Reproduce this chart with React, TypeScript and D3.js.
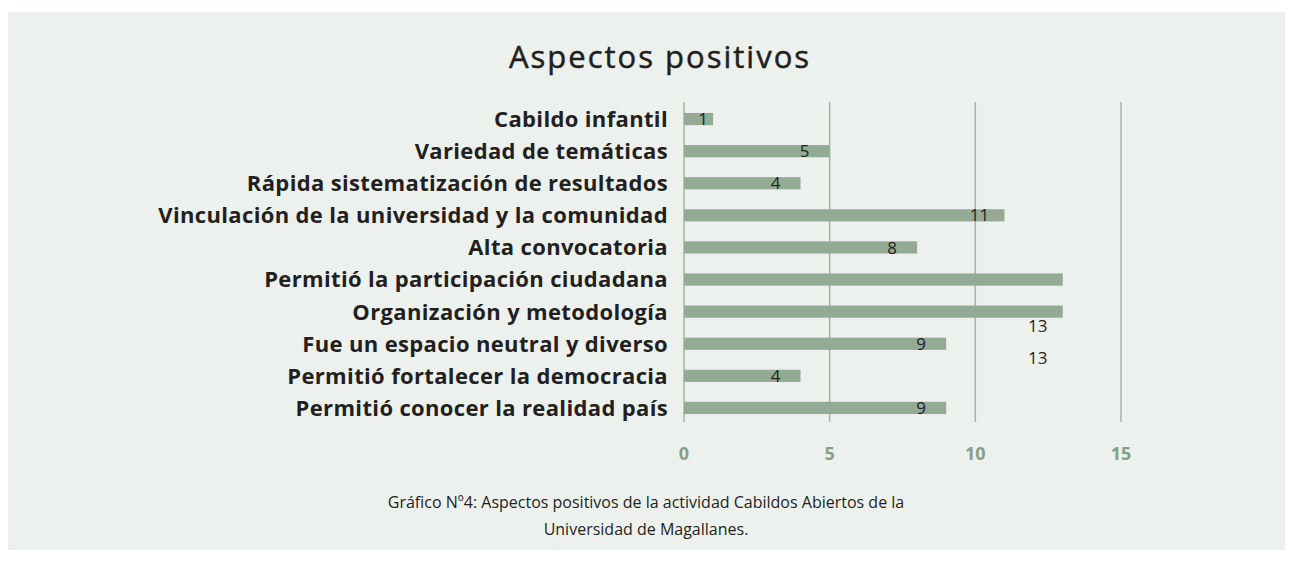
import * as d3 from "d3";

const categories = [
  "Cabildo infantil",
  "Variedad de temáticas",
  "Rápida sistematización de resultados",
  "Vinculación de la universidad y la comunidad",
  "Alta convocatoria",
  "Permitió la participación ciudadana",
  "Organización y metodología",
  "Fue un espacio neutral y diverso",
  "Permitió fortalecer la democracia",
  "Permitió conocer la realidad país",
];
const values = [1, 5, 4, 11, 8, 13, 13, 9, 4, 9];
const ticks = [0, 5, 10, 15];

const title = "Aspectos positivos";
const caption = [
  "Gráfico Nº4: Aspectos positivos de la actividad Cabildos Abiertos de la",
  "Universidad de Magallanes.",
];

const W = 1293;
const H = 561;
const font = "'Open Sans', sans-serif";
const ink = "#231F20";
const barColor = "#95AA94";
const gridColor = "#A2B5A1";
const tickColor = "#86A086";

export default function App() {
  const x = d3.scaleLinear().domain([0, 15]).range([684, 1121]);
  const y = d3
    .scaleBand<string>()
    .domain(categories)
    .range([103, 424])
    .paddingInner(0.62)
    .paddingOuter(0.31);
  const bh = y.bandwidth();
  const maxV = d3.max(values) ?? 0;

  return (
    <svg
      width={W}
      height={H}
      style={{ position: "absolute", left: 0, top: 0, background: "#fff" }}
    >
      <rect x={8} y={12} width={1277} height={538} fill="#EDF1EE" />
      {/* title: regular weight, a little letter spacing like the original */}
      <text
        x={660}
        y={68}
        textAnchor="middle"
        fontFamily={font}
        fontSize={31}
        letterSpacing={2}
        stroke={ink}
        strokeWidth={0.5}
        fill={ink}
      >
        {title}
      </text>

      {ticks.map((t) => (
        <g key={t}>
          <line
            x1={x(t)}
            x2={x(t)}
            y1={102}
            y2={422}
            stroke={gridColor}
            strokeWidth={1.5}
          />
          <text
            x={x(t)}
            y={460}
            textAnchor="middle"
            fontFamily={font}
            fontWeight={700}
            fontSize={18}
            fill={tickColor}
          >
            {t}
          </text>
        </g>
      ))}

      {categories.map((c, i) => {
        const yc = (y(c) ?? 0) + bh / 2;
        const v = values[i];
        const lx = v === 1 ? x(v) - 10 : x(v) - 25;
        // the two longest bars have their labels pushed down in the original
        const ly = v === maxV ? yc + 46 : yc;
        return (
          <g key={c}>
            <text
              x={668}
              y={yc}
              dy="0.36em"
              textAnchor="end"
              fontFamily={font}
              fontWeight={700}
              fontSize={22}
              letterSpacing={0.35}
              fill={ink}
            >
              {c}
            </text>
            <rect
              x={x(0)}
              y={y(c)}
              width={x(v) - x(0)}
              height={bh}
              fill={barColor}
            />
            <text
              x={lx}
              y={ly}
              dy="0.36em"
              textAnchor="middle"
              fontFamily={font}
              fontSize={17}
              fill={ink}
            >
              {v}
            </text>
          </g>
        );
      })}

      {caption.map((line, i) => (
        <text
          key={i}
          x={646}
          y={508 + i * 27}
          textAnchor="middle"
          fontFamily={font}
          fontSize={16}
          fill={ink}
        >
          {line}
        </text>
      ))}
    </svg>
  );
}
